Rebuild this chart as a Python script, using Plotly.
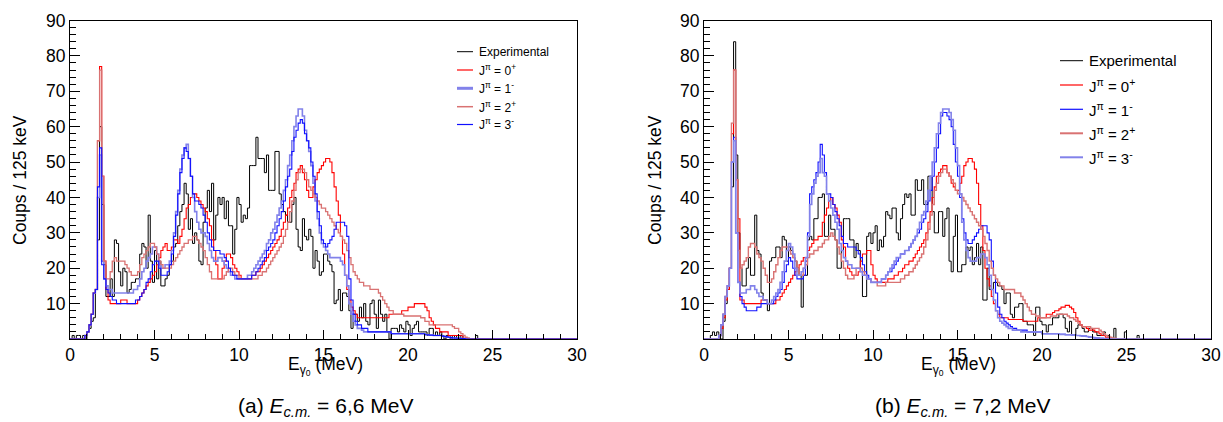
import plotly.graph_objects as go

BIN = 0.125          # MeV per bin (125 keV)
NBINS = 240          # 0 .. 30 MeV
W, H = 1223, 422

# ---------------- Panel (a) : E_cm = 6.6 MeV (values per 0.125 MeV bin, one row per MeV) ----------------
a_exp = [
    0, 1, 0, 1, 1, 0, 1, 0,
    2, 3, 5, 6, 14, 28, 60, 38,
    21, 12, 12, 17, 12, 28, 27, 19,
    15, 20, 19, 13, 14, 16, 16, 17,
    17, 24, 27, 26, 20, 35, 22, 16,
    25, 17, 22, 15, 15, 17, 18, 21,
    22, 26, 27, 32, 36, 38, 44, 41,
    31, 34, 27, 30, 28, 22, 21, 33,
    37, 42, 36, 44, 28, 35, 40, 38,
    40, 34, 39, 32, 32, 24, 31, 40,
    38, 33, 35, 34, 37, 49, 49, 49,
    57, 51, 51, 51, 47, 52, 42, 42,
    42, 53, 53, 41, 38, 36, 35, 33,
    33, 38, 40, 31, 26, 25, 34, 29,
    28, 31, 29, 20, 25, 22, 18, 19,
    24, 24, 22, 21, 19, 10, 11, 14,
    8, 13, 13, 12, 8, 3, 7, 7,
    5, 9, 6, 10, 5, 4, 10, 11,
    7, 3, 11, 7, 5, 7, 2, 0,
    3, 3, 3, 2, 4, 3, 2, 5,
    4, 1, 3, 4, 5, 2, 2, 2,
    2, 1, 3, 3, 1, 2, 1, 2,
    1, 0, 1, 1, 0, 1, 0, 1,
    0, 1, 0, 0, 0, 0, 0, 0,
    1,
]
a_jp0 = [
    0, 0, 0, 0, 0, 0, 0, 1,
    2, 4, 7, 13, 14, 56, 77, 46,
    22, 14, 11, 10, 10, 10, 10, 10,
    11, 11, 11, 10, 10, 10, 10, 10,
    11, 12, 13, 14, 15, 16, 17, 18,
    19, 21, 23, 25, 26, 27, 25, 25,
    26, 28, 28, 27, 29, 31, 34, 37,
    38, 40, 41, 41, 40, 39, 38, 37,
    36, 34, 32, 28, 25, 21, 17, 17,
    20, 22, 24, 24, 23, 21, 20, 19,
    18, 17, 17, 17, 17, 17, 18, 18,
    19, 19, 20, 21, 22, 23, 24, 25,
    26, 27, 28, 29, 31, 33, 35, 37,
    40, 42, 44, 47, 48, 49, 47, 45,
    42, 40, 40, 43, 45, 47, 48, 49,
    50, 51, 51, 50, 47, 43, 39, 35,
    29, 24, 18, 14, 11, 9, 8, 7,
    6, 6, 6, 6, 6, 6, 6, 6,
    6, 6, 6, 6, 6, 6, 6, 7,
    7, 7, 7, 7, 7, 8, 8, 8,
    9, 9, 9, 10, 10, 10, 10, 10,
    9, 8, 6, 5, 4, 3, 3, 2,
    2, 2, 2, 1, 1, 1, 1, 1,
    1, 1, 0, 0, 0, 0, 0, 0,
]
a_jm1 = [
    0, 0, 0, 0, 0, 0, 0, 1,
    2, 4, 7, 13, 14, 40, 52, 22,
    17, 15, 14, 14, 13, 13, 13, 13,
    13, 13, 13, 13, 13, 13, 14, 14,
    15, 17, 19, 20, 22, 23, 24, 26,
    26, 24, 21, 20, 20, 21, 21, 22,
    25, 30, 36, 42, 48, 52, 54, 55,
    51, 46, 40, 36, 33, 31, 30, 30,
    29, 27, 25, 23, 22, 22, 23, 23,
    22, 21, 20, 19, 18, 18, 17, 17,
    17, 17, 17, 17, 18, 18, 19, 20,
    21, 22, 23, 24, 25, 27, 28, 30,
    31, 33, 35, 37, 39, 42, 45, 49,
    52, 56, 60, 63, 65, 65, 63, 59,
    56, 53, 49, 44, 39, 34, 30, 27,
    26, 25, 24, 23, 23, 23, 23, 23,
    22, 21, 18, 15, 10, 7, 5, 4,
    3, 3, 2.5, 2, 2, 2, 2, 2,
    2, 2, 2, 2, 2, 2, 2, 2,
    1.5, 1.5, 1.5, 1.5, 1.5, 1.5, 1.5, 1.5,
    1.5, 1.5, 1.5, 1.5, 1.5, 1.5, 1.5, 1.5,
    1.2, 1.2, 1.1, 1.1, 1, 1, 1, 1,
    0.8, 0.7, 0.6, 0.5, 0.4, 0.3, 0.3, 0.2,
    0.2, 0.1, 0.1, 0, 0, 0, 0, 0,
]
a_jp2 = [
    0, 0, 0, 0, 0, 0, 0, 1,
    2, 4, 7, 13, 14, 56, 76, 46,
    22, 17, 17, 19, 22, 23, 22, 22,
    22, 22, 21, 20, 19, 18, 18, 18,
    19, 21, 23, 24, 25, 26, 27, 27,
    26, 24, 22, 21, 20, 20, 20, 20,
    21, 22, 23, 24, 25, 26, 27, 27,
    28, 28, 29, 29, 28, 27, 26, 25,
    23, 21, 19, 17, 17, 17, 17, 17,
    17, 18, 19, 20, 20, 19, 18, 18,
    17, 17, 17, 17, 17, 17, 17, 17,
    17, 18, 18, 19, 19, 20, 21, 22,
    23, 24, 25, 26, 27, 29, 31, 33,
    36, 39, 42, 45, 47, 48, 48, 47,
    45, 43, 42, 41, 40, 39, 38, 37,
    37, 36, 35, 34, 33, 32, 31, 30,
    29, 28, 27, 25, 23, 21, 19, 18,
    17, 16, 16, 15, 15, 15, 14, 14,
    14, 14, 13, 12, 11, 10, 9, 8,
    8, 7, 7, 7, 7, 7, 6.5, 6.5,
    6.5, 6.5, 6.5, 6.5, 6.5, 6.5, 6, 6,
    5, 5, 4, 4, 4, 4, 4, 4,
    4, 4, 4, 4, 4, 3.5, 3, 3,
    2, 1.5, 1, 0.5, 0.3, 0, 0, 0,
]
a_jm3 = [
    0, 0, 0, 0, 0, 0, 0, 1,
    2, 4, 7, 13, 14, 43, 54, 21,
    17, 14, 13, 12, 11, 11, 10, 10,
    10, 10, 10, 10, 10, 10, 10, 11,
    11, 12, 13, 14, 16, 17, 19, 21,
    22, 22, 20, 18, 18, 18, 19, 21,
    24, 29, 35, 41, 47, 51, 54, 53,
    51, 46, 41, 39, 39, 38, 37, 35,
    33, 30, 28, 26, 25, 25, 25, 24,
    24, 23, 22, 20, 19, 18, 18, 17,
    17, 17, 17, 17, 17, 17, 18, 18,
    19, 20, 21, 22, 23, 25, 26, 27,
    28, 30, 32, 34, 36, 39, 43, 46,
    48, 53, 57, 59, 61, 62, 61, 58,
    56, 54, 50, 46, 41, 36, 32, 28,
    27, 26, 27, 28, 29, 31, 33, 33,
    33, 33, 32, 29, 17, 11, 7, 5,
    4, 4, 3, 3, 3, 2, 2, 2,
    2, 2, 2, 2, 2, 2, 2, 2,
    1.5, 1.5, 1.5, 1.5, 1.5, 1.5, 1.5, 1.5,
    1.5, 1.5, 1.5, 1.5, 1.5, 1.5, 1.5, 1.5,
    1.2, 1.2, 1.1, 1.1, 1, 1, 1, 1,
    0.8, 0.7, 0.6, 0.5, 0.4, 0.3, 0.3, 0.2,
    0.2, 0.1, 0.1, 0, 0, 0, 0, 0,
]

# ---------------- Panel (b) : E_cm = 7.2 MeV ----------------
b_exp = [
    0, 0, 0, 1, 2, 1, 2, 0,
    0, 5, 10, 14, 20, 43, 84, 52,
    30, 20, 15, 15, 20, 23, 18, 18,
    35, 25, 24, 13, 11, 11, 8, 22,
    23, 23, 26, 26, 23, 29, 28, 22,
    26, 25, 23, 22, 20, 18, 9, 18,
    18, 28, 29, 28, 34, 34, 40, 40,
    41, 29, 29, 35, 31, 31, 28, 20,
    20, 25, 34, 34, 34, 28, 28, 23,
    27, 25, 20, 12, 12, 29, 30, 27,
    30, 32, 25, 28, 26, 29, 36, 35,
    34, 37, 37, 30, 28, 34, 38, 41,
    40, 41, 35, 35, 45, 42, 42, 45,
    38, 38, 46, 46, 36, 30, 30, 36,
    36, 29, 34, 37, 22, 19, 29, 35,
    19, 19, 21, 21, 26, 25, 26, 21,
    23, 27, 21, 26, 11, 11, 20, 14,
    14, 16, 16, 15, 15, 14, 10, 13,
    13, 7, 6, 9, 9, 10, 10, 5,
    5, 4, 4, 4, 1, 9, 9, 5,
    4, 4, 2, 4, 4, 6, 6, 6,
    7, 7, 6, 3, 2, 5, 1, 1,
    3, 4, 4, 3, 2, 2, 3, 3,
    2, 2, 1, 1, 1, 2, 1, 1,
    0, 0, 3, 0, 0, 0, 0, 2,
    0, 0, 0, 0, 0, 1, 0, 0,
]
b_jp0 = [
    0, 0, 0, 0, 0, 0, 0, 1,
    3, 6, 11, 14, 20, 58, 76, 45,
    34, 11, 11, 10, 10, 10, 10, 10,
    10, 10, 10, 11, 11, 11, 10, 10,
    10, 10, 11, 11, 12, 13, 14, 15,
    16, 17, 18, 19, 20, 21, 22, 23,
    23, 25, 26, 27, 28, 28, 29, 29,
    33, 35, 37, 39, 40, 38, 37, 35,
    33, 28, 26, 22, 20, 19, 18, 18,
    18, 19, 22, 24, 24, 25, 25, 21,
    18, 17, 16, 16, 16, 16, 16, 17,
    17, 17, 18, 18, 19, 19, 20, 21,
    21, 22, 22, 23, 24, 25, 26, 27,
    28, 30, 33, 36, 40, 43, 46, 47,
    48, 49, 49, 47, 46, 44, 43, 42,
    42, 44, 46, 49, 50, 51, 51, 50,
    48, 44, 38, 32, 25, 20, 17, 15,
    12, 10, 8, 7, 6, 6, 6, 6,
    5.5, 5.5, 5.5, 5.5, 5.5, 5.5, 5.5, 5,
    5, 5, 5, 5, 5, 5, 6, 6,
    6, 6, 7, 7, 7, 7.5, 8, 8,
    8.5, 9, 9, 9.5, 9.5, 9, 8.5, 7.5,
    6, 5, 4, 3.5, 3.5, 3, 2.5, 2.5,
    2.5, 2, 2, 1.5, 1, 1, 0.5, 0.5,
    0.3,
]
b_jm1 = [
    0, 0, 0, 0, 0, 0, 0, 1,
    4, 7, 12, 15, 20, 50, 57, 30,
    16, 12, 10, 9, 8, 8, 8, 8,
    8, 9, 9, 10, 10, 10, 10, 10,
    10, 11, 12, 13, 14, 16, 19, 21,
    23, 22, 20, 18, 17, 17, 17, 18,
    22, 30, 41, 43, 45, 47, 50, 55,
    52, 47, 41, 41, 40, 38, 36, 34,
    32, 29, 27, 27, 26, 26, 26, 26,
    25, 24, 23, 21, 19, 18, 17, 16,
    16, 16, 16, 16, 17, 17, 18, 19,
    19, 20, 21, 22, 23, 24, 24, 25,
    25, 26, 27, 28, 29, 30, 31, 33,
    34, 36, 39, 42, 46, 50, 54, 58,
    63, 64, 64, 63, 62, 60, 55, 50,
    46, 40, 34, 30, 28, 27, 27, 28,
    29, 30, 31, 32, 32, 32, 30, 28,
    22, 18, 13, 9, 7, 6, 5, 4.5,
    4, 3.5, 3, 3, 2.5, 2.5, 2.5, 2.5,
    2.5, 2, 2, 2, 2, 2, 2, 2,
    1.5, 1.5, 1.5, 1.5, 1.5, 1.5, 1.5, 1.5,
    1.3, 1.3, 1.3, 1.2, 1.2, 1.2, 1.1, 1.1,
    1, 1, 0.9, 0.8, 0.8, 0.7, 0.6, 0.5,
    0.4, 0.3, 0.3, 0.2, 0.2, 0.1, 0.1, 0,
]
b_jp2 = [
    0, 0, 0, 0, 0, 0, 0, 1,
    4, 7, 12, 15, 20, 61, 76, 45,
    25, 20, 21, 22, 23, 26, 27, 27,
    26, 24, 23, 22, 20, 18, 16, 16,
    17, 19, 21, 23, 25, 26, 26, 26,
    25, 24, 23, 22, 20, 18, 18, 20,
    21, 23, 24, 24, 25, 25, 26, 26,
    27, 28, 28, 29, 30, 29, 28, 26,
    24, 22, 20, 18, 17, 17, 17, 18,
    20, 20, 20, 19, 18, 17, 17, 16,
    16, 16, 15, 15, 15, 15, 16, 16,
    16, 16, 16, 16, 16, 17, 17, 18,
    18, 19, 19, 20, 21, 22, 23, 24,
    26, 28, 31, 35, 38, 42, 44, 46,
    47, 48, 48, 47, 46, 45, 44, 42,
    41, 41, 40, 39, 38, 37, 36, 35,
    34, 33, 32, 31, 29, 27, 25, 22,
    20, 18, 17, 16, 15, 15, 14, 14,
    14, 14, 14, 13, 13, 13, 12, 11,
    10, 9, 8, 7, 7, 6.5, 6.5, 6,
    6, 6, 6, 6, 6.5, 6.5, 6.5, 7,
    7, 7, 7, 7, 6.5, 6, 6, 5.5,
    5, 4.5, 4, 3.5, 3.5, 3.5, 3.5, 3,
    3, 3, 3, 2.5, 2, 1.5, 1, 0.7,
    0.5, 0.3, 0.2,
]
b_jm3 = [
    0, 0, 0, 0, 0, 0, 0, 1,
    4, 7, 12, 15, 20, 50, 56, 30,
    16, 13, 13, 13, 14, 14, 15, 15,
    14, 13, 12, 12, 11, 11, 10, 10,
    11, 12, 13, 14, 16, 19, 22, 25,
    27, 26, 24, 20, 18, 18, 19, 20,
    23, 29, 38, 41, 44, 46, 47, 51,
    47, 46, 41, 39, 37, 35, 33, 31,
    27, 25, 23, 22, 21, 21, 20, 20,
    20, 20, 19, 18, 18, 17, 17, 16,
    16, 16, 16, 16, 17, 17, 18, 19,
    20, 21, 22, 23, 23, 24, 24, 25,
    25, 26, 27, 28, 29, 31, 33, 35,
    36, 39, 42, 46, 50, 54, 58, 61,
    64, 65, 65, 65, 64, 62, 59, 54,
    49, 41, 33, 28, 25, 23, 22, 22,
    22, 23, 23, 24, 24, 23, 21, 18,
    14, 11, 8, 6, 5, 4.5, 4, 3.5,
    3, 3, 2.5, 2.5, 2.5, 2.5, 2, 2,
    2, 2, 2, 2, 2, 2, 2, 2,
    1.5, 1.5, 1.5, 1.5, 1.5, 1.5, 1.5, 1.5,
    1.3, 1.3, 1.3, 1.2, 1.2, 1.2, 1.1, 1.1,
    1, 1, 0.9, 0.8, 0.8, 0.7, 0.6, 0.5,
    0.4, 0.3, 0.3, 0.2, 0.2, 0.1, 0.1, 0,
]

x_tick_vals = [0, 5, 10, 15, 20, 25, 30]
y_tick_vals = [10, 20, 30, 40, 50, 60, 70, 80, 90]
legend_labels = ["Experimental", "J<sup>π</sup> = 0<sup>+</sup>", "J<sup>π</sup> = 1<sup>-</sup>",
                 "J<sup>π</sup> = 2<sup>+</sup>", "J<sup>π</sup> = 3<sup>-</sup>"]
captions = ["(a) <i>E<sub>c.m.</sub></i> = 6,6 MeV", "(b) <i>E<sub>c.m.</sub></i> = 7,2 MeV"]

FONT = "Liberation Sans"
C_EXP = "#000000"
C_0P = "#ff0000"
C_2P = "#d97272"
C_DARK = "#1010ff"
C_LAV = "#8282ea"


def steps(vals):
    v = list(vals) + [0.0] * (NBINS - len(vals))
    x = [i * BIN for i in range(NBINS + 1)]
    y = v + [v[-1]]
    return x, y


def px(x):
    return x / W


def py(y):
    return 1 - y / H


fig = go.Figure()

panels = [
    dict(ax="x", ay="y",
         series=[(a_exp, C_EXP, 1.0), (a_jp0, C_0P, 1.1), (a_jm1, C_LAV, 1.6), (a_jp2, C_2P, 1.3), (a_jm3, C_DARK, 1.1)]),
    dict(ax="x2", ay="y2",
         series=[(b_exp, C_EXP, 1.0), (b_jp0, C_0P, 1.1), (b_jm1, C_DARK, 1.1), (b_jp2, C_2P, 1.4), (b_jm3, C_LAV, 1.6)]),
]
for p in panels:
    for (vals, col, lw), name in zip(p["series"], legend_labels):
        x, y = steps(vals)
        fig.add_trace(go.Scatter(x=x, y=y, mode="lines", line=dict(shape="hv", color=col, width=lw),
                                 name=name, xaxis=p["ax"], yaxis=p["ay"], showlegend=False,
                                 hoverinfo="skip"))

ydom = [py(339), py(20.5)]
xdoms = [[px(70), px(577)], [px(704), px(1211)]]

common = dict(showline=True, linecolor="black", linewidth=1, mirror=True, ticks="inside",
              tickcolor="black", tickwidth=1, showgrid=False, zeroline=False, automargin=False,
              tickfont=dict(family=FONT, size=17.5, color="black"))
for i, suf in enumerate(["", "2"]):
    fig.layout["xaxis" + suf] = dict(common, domain=xdoms[i], range=[0, 30], tickmode="array",
                                     tickvals=x_tick_vals, ticklen=9, anchor="y" + suf,
                                     minor=dict(ticks="inside", ticklen=5, dtick=1, tick0=0,
                                                tickcolor="black", showgrid=False))
    fig.layout["yaxis" + suf] = dict(common, domain=ydom, range=[0, 90], tickmode="array",
                                     tickvals=y_tick_vals, ticklen=10, anchor="x" + suf,
                                     minor=dict(ticks="inside", ticklen=6, dtick=2, tick0=0,
                                                tickcolor="black", showgrid=False))

ann = []
shapes = []
# axis titles
for cx in (20, 655):
    ann.append(dict(x=px(cx), y=py(180), xref="paper", yref="paper", text="Coups / 125 keV",
                    textangle=-90, showarrow=False, xanchor="center", yanchor="middle",
                    font=dict(family=FONT, size=17.5, color="black")))
for cx in (325, 958):
    ann.append(dict(x=px(cx), y=py(366), xref="paper", yref="paper",
                    text="E<sub>γ<sub>0</sub></sub> (MeV)", showarrow=False,
                    xanchor="center", yanchor="middle", font=dict(family=FONT, size=17.5, color="black")))
# captions
for cx, cap in zip((325, 962), captions):
    ann.append(dict(x=px(cx), y=py(407), xref="paper", yref="paper", text=cap, showarrow=False,
                    xanchor="center", yanchor="middle", font=dict(family=FONT, size=21, color="black")))

# legends (drawn as line samples + text)
leg_a = dict(x0=457, x1=473, tx=477, ys=[51.7, 70, 88.3, 106.7, 124.5], size=12,
             cols=[(C_EXP, 1), (C_0P, 1.2), (C_LAV, 3), (C_2P, 1.5), (C_DARK, 1.2)])
leg_b = dict(x0=1060, x1=1083, tx=1087, ys=[60.7, 85, 109.3, 133.3, 157.3], size=15,
             cols=[(C_EXP, 1), (C_0P, 1.2), (C_DARK, 1.2), (C_2P, 2), (C_LAV, 2)])
for lg in (leg_a, leg_b):
    for yy, (col, lw), lab in zip(lg["ys"], lg["cols"], legend_labels):
        shapes.append(dict(type="line", xref="paper", yref="paper", x0=px(lg["x0"]), x1=px(lg["x1"]),
                           y0=py(yy), y1=py(yy), line=dict(color=col, width=lw)))
        ann.append(dict(x=px(lg["tx"]), y=py(yy), xref="paper", yref="paper", text=lab,
                        showarrow=False, xanchor="left", yanchor="middle",
                        font=dict(family=FONT, size=lg["size"], color="black")))

fig.update_layout(width=W, height=H, margin=dict(l=0, r=0, t=0, b=0, autoexpand=False),
                  paper_bgcolor="white", plot_bgcolor="white", showlegend=False,
                  annotations=ann, shapes=shapes, font=dict(family=FONT, color="black"))

# remove the default 8px page margin so the figure sits at the window's top-left corner
fig.write_html("out.html", config={"displayModeBar": False},
               post_script="document.body.style.margin='0px';document.body.style.overflow='hidden';")
